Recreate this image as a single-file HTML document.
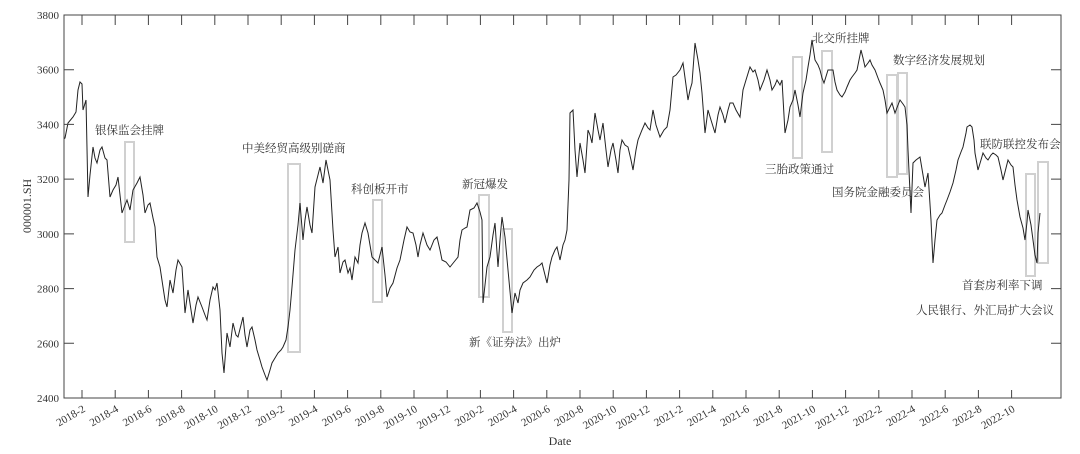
<!DOCTYPE html>
<html><head><meta charset="utf-8"><style>
html,body{margin:0;padding:0;background:#fff;}
svg{display:block;}
text{font-family:"Liberation Serif","Noto Serif CJK SC",serif;fill:#333;}
</style></head><body>
<svg width="1080" height="454" viewBox="0 0 1080 454" xmlns="http://www.w3.org/2000/svg">
<rect width="1080" height="454" fill="#fff"/>
<g fill="none" stroke="#d0d0d0" stroke-width="2">
<rect x="125" y="142" width="9" height="100"/>
<rect x="288" y="164" width="12" height="188"/>
<rect x="373" y="200" width="9" height="102"/>
<rect x="479" y="195" width="10" height="102"/>
<rect x="503" y="229" width="9" height="103"/>
<rect x="793" y="57" width="9" height="101"/>
<rect x="822" y="51" width="10" height="101"/>
<rect x="887" y="75" width="10" height="102"/>
<rect x="898" y="73" width="9" height="101"/>
<rect x="1026" y="174" width="9" height="102"/>
<rect x="1038" y="162" width="10" height="101"/>
</g>
<polyline fill="none" stroke="#222" stroke-width="1" points="
64,139 65,138 68,123 73,117 76,112 78,90 80,82 82,84 83,110 86,100 88,197 90,175 93,147 95,158 97,163 100,150 102,147 105,158 107,160 110,197 113,190 116,185 118,177 120,195 122,213 125,205 127,200 130,210 133,190 137,183 140,177 143,195 145,213 148,205 150,203 153,218 155,227 157,257 160,267 163,287 165,300 167,307 170,280 173,293 176,270 178,260 182,267 185,313 188,290 191,310 193,323 196,305 198,297 202,307 205,315 207,320 210,300 213,287 215,290 217,283 220,310 222,353 224,373 227,333 230,347 233,323 236,335 238,337 243,317 245,335 247,347 250,330 252,327 255,340 257,350 260,360 262,367 265,375 267,380 270,370 272,363 275,358 278,353 281,350 283,347 286,340 288,327 290,310 292,287 295,250 298,225 300,203 303,240 305,220 307,207 310,225 312,233 315,187 318,175 320,167 323,183 326,160 328,170 330,180 333,230 335,257 338,247 340,273 343,262 345,260 348,273 350,268 352,280 355,257 358,263 360,245 362,233 365,223 368,233 370,245 372,257 375,260 378,263 382,247 385,275 387,297 390,288 393,283 397,268 400,260 404,240 407,227 410,232 413,233 416,245 418,257 420,245 423,233 427,245 430,250 434,240 437,237 440,250 442,260 446,262 450,267 454,262 458,257 460,240 462,230 465,228 467,227 470,210 474,208 477,203 480,212 482,220 483,303 485,285 487,267 490,257 493,235 495,223 498,267 500,240 502,217 505,237 508,270 512,313 515,293 518,303 520,290 523,283 527,280 530,277 534,270 537,267 540,265 542,263 545,275 547,283 550,265 552,257 555,250 557,247 560,260 563,245 565,240 567,230 569,180 570,113 573,110 575,150 577,177 580,143 583,160 585,173 588,130 590,135 592,143 595,113 598,130 600,140 603,123 606,150 608,167 611,150 613,143 616,160 618,173 620,150 622,140 625,145 628,147 631,160 633,170 636,150 638,140 642,130 645,123 648,128 650,130 653,110 656,125 660,137 664,130 667,127 670,110 673,77 676,75 680,70 683,63 686,85 688,100 690,90 692,83 695,43 698,60 700,73 702,93 705,133 708,110 711,120 715,133 718,115 720,107 723,115 725,123 728,110 730,103 733,103 736,110 740,117 743,90 746,80 750,67 753,72 755,70 758,80 760,90 764,80 767,70 770,80 772,90 775,85 777,80 780,85 782,80 785,133 788,120 790,107 793,100 795,90 798,105 800,117 803,93 806,80 808,67 810,55 812,40 815,60 818,65 820,70 822,78 824,83 828,70 831,70 833,70 835,82 837,90 840,95 842,97 845,92 847,87 850,80 852,77 855,73 857,70 861,50 863,58 865,67 868,63 870,60 872,65 875,70 878,78 880,83 883,90 885,100 887,113 890,107 892,103 895,113 898,105 900,100 903,104 905,107 907,125 908,150 911,213 913,163 916,160 920,157 923,175 925,187 928,173 931,220 933,263 935,240 937,220 940,215 942,213 945,205 947,200 950,192 953,183 956,170 958,160 961,152 963,147 966,133 967,127 970,125 972,127 974,140 975,153 978,170 981,160 983,153 986,158 988,160 991,155 993,153 996,155 998,157 1001,170 1003,180 1006,168 1008,160 1011,165 1013,167 1015,185 1017,200 1020,217 1023,228 1025,240 1027,222 1028,210 1031,225 1033,240 1035,255 1037,263 1038,233 1040,213"/>
<g stroke="#444" stroke-width="1" fill="none">
<rect x="64" y="15" width="997" height="383"/>
</g>
<g stroke="#444" stroke-width="1" id="xt">
<path d="M82,398v-8M115.2,398v-8M148.4,398v-8M181.6,398v-8M214.8,398v-8M248,398v-8M281.2,398v-8M314.4,398v-8M347.6,398v-8M380.8,398v-8M414,398v-8M447.2,398v-8M480.4,398v-8M513.6,398v-8M546.8,398v-8M580,398v-8M613.2,398v-8M646.4,398v-8M679.6,398v-8M712.8,398v-8M746,398v-8M779.2,398v-8M812.4,398v-8M845.6,398v-8M878.8,398v-8M912,398v-8M945.2,398v-8M978.4,398v-8M1011.6,398v-8"/>
<path d="M82,15v10M115.2,15v10M148.4,15v10M181.6,15v10M214.8,15v10M248,15v10M281.2,15v10M314.4,15v10M347.6,15v10M380.8,15v10M414,15v10M447.2,15v10M480.4,15v10M513.6,15v10M546.8,15v10M580,15v10M613.2,15v10M646.4,15v10M679.6,15v10M712.8,15v10M746,15v10M779.2,15v10M812.4,15v10M845.6,15v10M878.8,15v10M912,15v10M945.2,15v10M978.4,15v10M1011.6,15v10"/>
<path d="M64,69.7h10M64,124.4h10M64,179.1h10M64,233.9h10M64,288.6h10M64,343.3h10M1061,69.7h-10M1061,124.4h-10M1061,179.1h-10M1061,233.9h-10M1061,288.6h-10M1061,343.3h-10"/>
</g>
<g font-size="11" text-anchor="end">
<text x="59" y="19">3800</text><text x="59" y="73.7">3600</text><text x="59" y="128.4">3400</text><text x="59" y="183.1">3200</text><text x="59" y="237.9">3000</text><text x="59" y="292.6">2800</text><text x="59" y="347.3">2600</text><text x="59" y="402">2400</text>
</g>
<g font-size="11" text-anchor="end">
<text transform="translate(86,411) rotate(-30)">2018-2</text>
<text transform="translate(119.2,411) rotate(-30)">2018-4</text>
<text transform="translate(152.4,411) rotate(-30)">2018-6</text>
<text transform="translate(185.6,411) rotate(-30)">2018-8</text>
<text transform="translate(218.8,411) rotate(-30)">2018-10</text>
<text transform="translate(252,411) rotate(-30)">2018-12</text>
<text transform="translate(285.2,411) rotate(-30)">2019-2</text>
<text transform="translate(318.4,411) rotate(-30)">2019-4</text>
<text transform="translate(351.6,411) rotate(-30)">2019-6</text>
<text transform="translate(384.8,411) rotate(-30)">2019-8</text>
<text transform="translate(418,411) rotate(-30)">2019-10</text>
<text transform="translate(451.2,411) rotate(-30)">2019-12</text>
<text transform="translate(484.4,411) rotate(-30)">2020-2</text>
<text transform="translate(517.6,411) rotate(-30)">2020-4</text>
<text transform="translate(550.8,411) rotate(-30)">2020-6</text>
<text transform="translate(584,411) rotate(-30)">2020-8</text>
<text transform="translate(617.2,411) rotate(-30)">2020-10</text>
<text transform="translate(650.4,411) rotate(-30)">2020-12</text>
<text transform="translate(683.6,411) rotate(-30)">2021-2</text>
<text transform="translate(716.8,411) rotate(-30)">2021-4</text>
<text transform="translate(750,411) rotate(-30)">2021-6</text>
<text transform="translate(783.2,411) rotate(-30)">2021-8</text>
<text transform="translate(816.4,411) rotate(-30)">2021-10</text>
<text transform="translate(849.6,411) rotate(-30)">2021-12</text>
<text transform="translate(882.8,411) rotate(-30)">2022-2</text>
<text transform="translate(916,411) rotate(-30)">2022-4</text>
<text transform="translate(949.2,411) rotate(-30)">2022-6</text>
<text transform="translate(982.4,411) rotate(-30)">2022-8</text>
<text transform="translate(1015.6,411) rotate(-30)">2022-10</text>
</g>
<text x="560" y="445" font-size="12" text-anchor="middle">Date</text>
<text transform="translate(31,206) rotate(-90)" font-size="12" text-anchor="middle">000001.SH</text>
<g font-size="11.5">
<text x="95" y="134">银保监会挂牌</text>
<text x="242" y="152">中美经贸高级别磋商</text>
<text x="351" y="193">科创板开市</text>
<text x="462" y="188">新冠爆发</text>
<text x="469" y="346">新《证券法》出炉</text>
<text x="765" y="173">三胎政策通过</text>
<text x="812" y="42">北交所挂牌</text>
<text x="893" y="64">数字经济发展规划</text>
<text x="832" y="196">国务院金融委员会</text>
<text x="980" y="148">联防联控发布会</text>
<text x="962" y="289">首套房利率下调</text>
<text x="916" y="314">人民银行、外汇局扩大会议</text>
</g>
</svg>
</body></html>
